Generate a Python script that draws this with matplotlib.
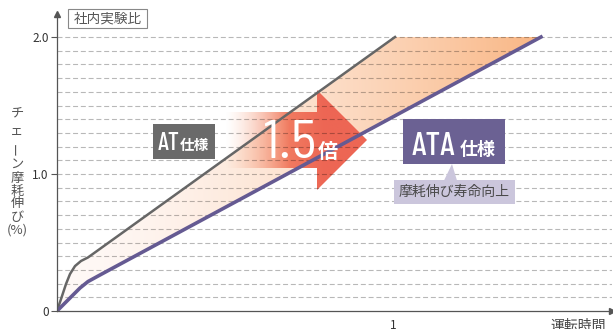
import numpy as np
import matplotlib
matplotlib.use('Agg')
import matplotlib.pyplot as plt
from matplotlib.patches import Polygon, Rectangle
import matplotlib.transforms as mtransforms

plt.rcParams['font.family'] = ['Noto Sans CJK JP', 'DejaVu Sans']

# ---------------- data ----------------
at_x = [0, 0.0149, 0.0268, 0.0387, 0.0536, 0.0714, 0.0923, 1.006]
at_y = [0, 0.109, 0.197, 0.270, 0.328, 0.365, 0.391, 2.0]
ata_x = [0, 0.0387, 0.0685, 0.0923, 0.128, 1.4405]
ata_y = [0, 0.095, 0.168, 0.215, 0.263, 2.0]
y_ticks = [0, 1.0, 2.0]
y_tick_labels = ['0', '1.0', '2.0']
x_ticks = [1]
x_tick_labels = ['1']
grid_levels = [round(0.1 * k, 1) for k in range(1, 21)]
ylabel_chars = ['チ', 'ェ', 'ー', 'ン', '摩', '耗', '伸', 'び', '(%)']

# ---------------- figure ----------------
W, H = 613, 329
fig = plt.figure(figsize=(W / 100, H / 100), dpi=100)
PX = mtransforms.Affine2D().scale(1 / W, -1 / H).translate(0, 1) + fig.transFigure

ax = fig.add_axes([57 / W, 18 / H, 555 / W, 297 / H])
XMAX, YMAX = 555 / 336, 297 / 137

# gradient fill between lines
poly_pts = list(zip(at_x, at_y)) + list(zip(ata_x[::-1], ata_y[::-1]))
fill_poly = Polygon(poly_pts, closed=True, facecolor='none', edgecolor='none')
ax.add_patch(fill_poly)
n = 256
t = np.linspace(0, 1, n) ** 1.5
c0 = np.array([255, 249, 247]) / 255
c1 = np.array([249, 182, 132]) / 255
grad = c0[None, :] * (1 - t[:, None]) + c1[None, :] * t[:, None]
im = ax.imshow(grad[None, :, :], extent=(0, max(ata_x), 0, max(ata_y)),
               aspect='auto', zorder=1, interpolation='bilinear')
im.set_clip_path(fill_poly)

# big arrow with gradient
arrow_pts = [(225, 112), (317, 112), (317, 90), (367, 140), (317, 190), (317, 168), (225, 168)]
arrow = Polygon(arrow_pts, closed=True, transform=PX, facecolor='none', edgecolor='none')
ax.add_patch(arrow)
xs = np.linspace(0, 1, 300)
alpha = np.clip(xs / 0.45, 0, 1) ** 1.3
ca = np.array([247, 158, 118]) / 255
cb = np.array([237, 102, 84]) / 255
mix = np.clip(xs / 0.7, 0, 1)[:, None]
col = ca[None, :] * (1 - mix) + cb[None, :] * mix
rgba = np.concatenate([col, alpha[:, None]], axis=1)[None, :, :]
im2 = ax.imshow(rgba, extent=(225, 368, 190, 90), transform=PX,
                aspect='auto', zorder=2, interpolation='bilinear')
im2.set_clip_path(arrow)

# grid
for g in grid_levels:
    ax.axhline(g, color='black', alpha=0.28, lw=0.8, dashes=(4.5, 2.5), zorder=3)

# lines
ax.plot(at_x, at_y, color='#666666', lw=1.8, zorder=4)
ax.plot(ata_x, ata_y, color='#655a92', lw=2.6, zorder=4)

ax.set_xlim(0, XMAX)
ax.set_ylim(0, YMAX)

for s in ['top', 'right']:
    ax.spines[s].set_visible(False)
for s in ['left', 'bottom']:
    ax.spines[s].set_color('#555555')
    ax.spines[s].set_linewidth(0.9)
    ax.spines[s].set_zorder(5)
ax.plot([0], [1], marker='^', color='#555555', ms=4, transform=ax.transAxes, clip_on=False, zorder=6)
ax.plot([1], [0], marker='>', color='#555555', ms=4, transform=ax.transAxes, clip_on=False, zorder=6)

ax.set_yticks(y_ticks, y_tick_labels)
ax.set_xticks(x_ticks, x_tick_labels)
ax.tick_params(axis='y', length=4.5, width=0.8, color='#555555', pad=1.5,
               labelsize=8.5, labelcolor='#333333')
ax.tick_params(axis='x', length=0, pad=5.5, labelsize=8.5, labelcolor='#333333')

# ---------------- annotations ----------------
cond = ['Barlow Condensed', 'Roboto Condensed', 'Archivo Narrow', 'DejaVu Sans']
semi = ['Barlow Semi Condensed', 'Barlow Condensed', 'Roboto Condensed', 'DejaVu Sans']

# 社内実験比 box
fig.add_artist(Rectangle((68, 9), 79, 19, transform=PX, facecolor='white',
                         edgecolor='#888888', lw=0.8, zorder=6))
fig.text(107.5, 19, '社内実験比', transform=PX, ha='center', va='center',
         fontsize=9.8, color='#555555', zorder=7)

# AT box
fig.add_artist(Rectangle((152.5, 124), 62, 34.5, transform=PX, facecolor='#6a6a6a',
                         edgecolor='none', zorder=6))
fig.text(157.5, 149.5, 'AT', transform=PX, ha='left', va='baseline', fontsize=18,
         color='white', family=cond, fontweight='medium', zorder=7)
fig.text(180, 149.5, '仕様', transform=PX, ha='left', va='baseline', fontsize=10.5,
         color='white', fontweight='bold', zorder=7)

# ATA box
fig.add_artist(Rectangle((403, 119), 102, 44.5, transform=PX, facecolor='#6b6193',
                         edgecolor='none', zorder=6))
fig.text(412, 155, 'ATA', transform=PX, ha='left', va='baseline', fontsize=24,
         color='white', family=cond, fontweight='medium', zorder=7)
fig.text(460, 154.5, '仕様', transform=PX, ha='left', va='baseline', fontsize=13,
         color='white', fontweight='bold', zorder=7)

# callout
fig.add_artist(Rectangle((394, 180), 121, 23.5, transform=PX, facecolor='#cbc6dc',
                         edgecolor='none', zorder=6))
fig.add_artist(Polygon([(444, 180.5), (457, 180.5), (452, 164)], closed=True, transform=PX,
                       facecolor='#cbc6dc', edgecolor='none', zorder=6))
fig.text(454.5, 191.5, '摩耗伸び寿命向上', transform=PX, ha='center', va='center',
         fontsize=10, color='#4a4a4a', zorder=7)

# 1.5倍
fig.text(316, 158, '1.5', transform=PX, ha='right', va='baseline', fontsize=39,
         color='white', family=semi, zorder=7)
fig.text(318, 158, '倍', transform=PX, ha='left', va='baseline', fontsize=14.5,
         color='white', fontweight='bold', zorder=7)

# y label (vertical)
ylab_y = [114, 131, 148, 164, 178, 191, 204, 217, 230]
for ch, yy in zip(ylabel_chars, ylab_y):
    rot = 90 if ch == 'ー' else 0
    fig.text(17, yy, ch, transform=PX, ha='center', va='center', fontsize=9.5,
             color='#555555', rotation=rot, zorder=7)

# x label
fig.text(578, 319, '運転時間', transform=PX, ha='center', va='top', fontsize=10,
         color='#444444', zorder=7)

fig.savefig('out.png', dpi=100)
